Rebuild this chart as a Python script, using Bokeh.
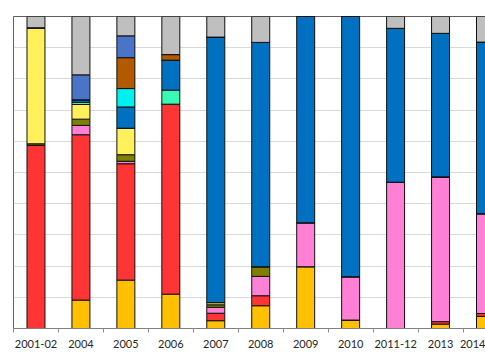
from bokeh.plotting import figure
from bokeh.models import ColumnDataSource, Range1d, FixedTicker
from bokeh.embed import file_html
from bokeh.resources import INLINE

categories = ["2001-02", "2004", "2005", "2006", "2007", "2008", "2009", "2010", "2011-12", "2013", "2014"]

gold = [0, 9.1, 15.5, 11.0, 2.5, 7.3, 19.8, 2.7, 0, 1.4, 3.9]
red = [58.7, 53.0, 37.3, 60.9, 2.4, 3.2, 0, 0, 0, 0.8, 0.9]
pink = [0, 3.0, 0.8, 0, 1.9, 6.2, 14.1, 13.9, 46.9, 46.4, 32.0]
olive = [0.5, 2.0, 2.1, 0, 0.8, 3.1, 0, 0, 0, 0, 0]
yellow = [37.2, 4.7, 8.5, 0, 0.7, 0, 0, 0, 0, 0, 0]
aqua = [0, 0.7, 0, 4.5, 0, 0, 0, 0, 0, 0, 0]
blue = [0, 0.8, 6.8, 9.6, 85.1, 71.9, 66.1, 83.4, 49.3, 46.0, 55.0]
cyan = [0, 0, 5.9, 0, 0, 0, 0, 0, 0, 0, 0]
brown = [0, 0, 9.9, 1.8, 0, 0, 0, 0, 0, 0, 0]
royal = [0, 8.0, 7.0, 0, 0, 0, 0, 0, 0, 0, 0]
grey = [3.6, 18.7, 6.2, 12.2, 6.6, 8.3, 0, 0, 3.8, 5.4, 8.2]

y_ticks = list(range(0, 101, 10))

series = ["gold", "red", "pink", "olive", "yellow", "aqua", "blue", "cyan", "brown", "royal", "grey"]
colors = ["#FFC000", "#FF3535", "#FF80D5", "#808000", "#FFF05C", "#38FAB4",
          "#0070C0", "#00F0F0", "#B35900", "#4A74C8", "#BFBFBF"]

xs = list(range(len(categories)))
data = dict(x=xs, gold=gold, red=red, pink=pink, olive=olive, yellow=yellow, aqua=aqua,
            blue=blue, cyan=cyan, brown=brown, royal=royal, grey=grey)
source = ColumnDataSource(data)

p = figure(width=485, height=352, output_backend="svg", toolbar_location=None,
           x_range=Range1d(-0.5, 10.0), y_range=Range1d(0, 100),
           y_axis_location=None,
           min_border_left=13, min_border_right=0, min_border_top=16, min_border_bottom=24)

p.vbar_stack(series, x="x", width=0.4, source=source, fill_color=colors,
             line_color="#111111", line_width=1)

p.xgrid.visible = False
p.ygrid.grid_line_color = "#D9D9D9"
p.ygrid.grid_line_width = 1
p.ygrid.ticker = FixedTicker(ticks=y_ticks)

p.outline_line_color = "#606060"
p.outline_line_width = 1

xa = p.xaxis[0]
xa.ticker = FixedTicker(ticks=xs, minor_ticks=[i + 0.5 for i in xs[:-1]] + [-0.5])
xa.major_label_overrides = {i: c for i, c in enumerate(categories)}
xa.major_tick_out = 0
xa.major_tick_in = 0
xa.minor_tick_out = 4
xa.minor_tick_in = 0
xa.minor_tick_line_color = "#8C8C8C"
xa.axis_line_color = "#808080"
xa.major_label_standoff = 7
xa.major_label_text_font = "Lato"
xa.major_label_text_font_size = "11px"
xa.major_label_text_color = "#262626"

open("out.html", "w").write(file_html(p, INLINE))
